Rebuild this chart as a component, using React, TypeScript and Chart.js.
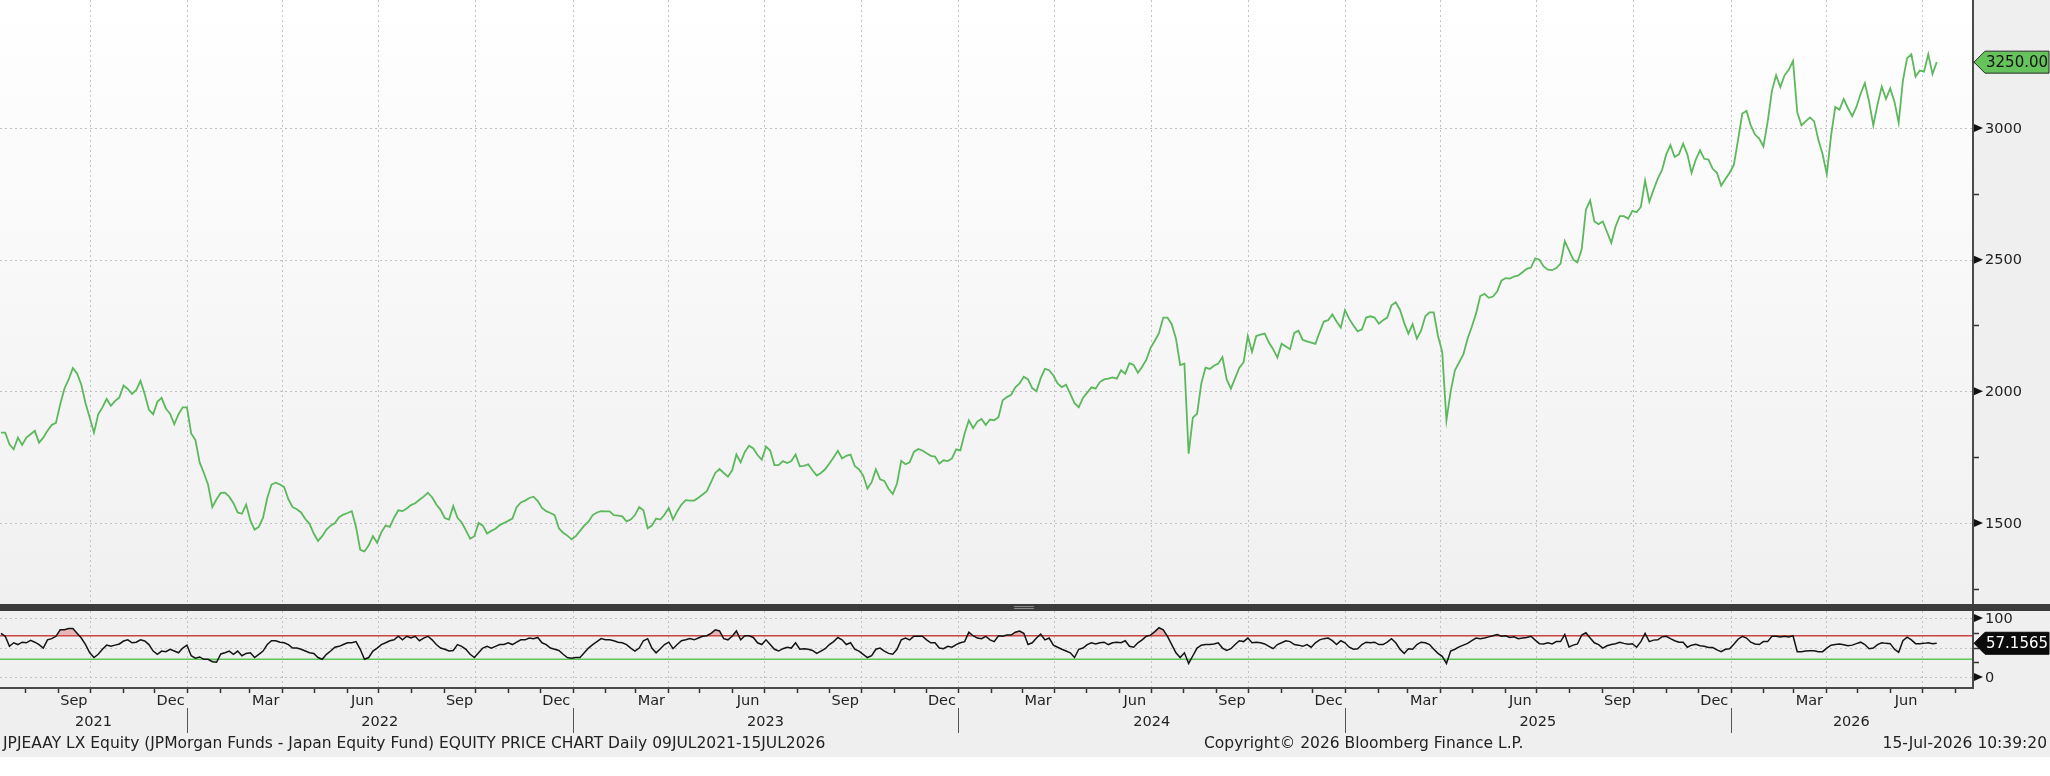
import React, { useEffect, useRef } from 'react';
import { Chart, registerables } from 'chart.js';

Chart.register(...registerables);

// series start 09 Jul 2021, one reading every 4 calendar days
const START = Date.UTC(2021, 6, 9);
const STEP_DAYS = 4;

const price2021 = [
  1843, 1843, 1799, 1780, 1824, 1796, 1824, 1837, 1850, 1805,
  1824, 1850, 1872, 1880, 1950, 2010, 2045, 2088, 2068, 2025,
  1955, 1900, 1843, 1913, 1939, 1971, 1945, 1964, 1977, 2022,
  2009, 1990, 2005, 2040, 1990, 1930, 1913, 1960, 1975, 1935,
  1915, 1875, 1913, 1939,
];
const price2022 = [
  1939, 1840, 1815, 1730, 1690, 1645,
  1560, 1590, 1614, 1615, 1600, 1575, 1540, 1535, 1570, 1510,
  1475, 1485, 1520, 1595, 1646, 1653, 1646, 1636, 1590, 1560,
  1552, 1540, 1515, 1497, 1460, 1432, 1450, 1475, 1490, 1500,
  1522, 1532, 1538, 1545, 1485, 1398, 1392, 1415, 1450, 1425,
  1465, 1490, 1485, 1520, 1548, 1545, 1555, 1568, 1575, 1588,
  1600, 1615, 1598, 1570, 1550, 1519, 1513, 1564, 1520, 1502,
  1472, 1440, 1450, 1500, 1490, 1460, 1470, 1478, 1492, 1500,
  1508, 1517, 1560, 1578, 1585, 1595, 1600, 1583, 1557, 1545,
  1538, 1530, 1480, 1463, 1452, 1438,
];
const price2023 = [
  1450, 1470, 1490, 1505,
  1530, 1540, 1545, 1544, 1544, 1530, 1528, 1525, 1506, 1513,
  1530, 1560, 1548, 1480, 1490, 1517, 1513, 1532, 1557, 1513,
  1545, 1570, 1587, 1585, 1585, 1596, 1608, 1621, 1655, 1690,
  1705, 1690, 1676, 1700, 1760, 1730, 1770, 1793, 1783, 1758,
  1740, 1790, 1775, 1720, 1720, 1735, 1728, 1735, 1760, 1715,
  1717, 1723, 1700, 1680, 1690, 1704, 1726, 1749, 1774, 1745,
  1755, 1760, 1717, 1704, 1680, 1630, 1655, 1704, 1666, 1660,
  1630, 1610, 1650, 1736, 1723, 1730, 1770, 1781, 1775, 1765,
  1755, 1752, 1725, 1738, 1735, 1745, 1780,
];
const price2024 = [
  1776, 1840, 1890,
  1860, 1885, 1895, 1872, 1893, 1890, 1902, 1966, 1978, 1987,
  2015, 2030, 2055, 2045, 2012, 2000, 2050, 2085, 2080, 2060,
  2030, 2016, 2025, 1990, 1955, 1940, 1975, 1995, 2015, 2010,
  2035, 2045, 2048, 2053, 2048, 2080, 2067, 2107, 2100, 2070,
  2093, 2120, 2165, 2192, 2222, 2280, 2280, 2255, 2200, 2100,
  2105, 1763, 1900, 1915, 2030, 2090, 2085, 2097, 2105, 2130,
  2045, 2010, 2050, 2090, 2110, 2210, 2150, 2210, 2215, 2219,
  2185, 2160, 2128, 2181, 2170, 2160, 2222, 2230, 2195, 2190,
  2185, 2180, 2225, 2265, 2270, 2292, 2265, 2242,
];
const price2025 = [
  2308, 2275,
  2250, 2228, 2235, 2280, 2285, 2280, 2257, 2270, 2280, 2327,
  2338, 2310, 2260, 2219, 2255, 2200, 2230, 2285, 2300, 2300,
  2210, 2150, 1890, 2000, 2080, 2110, 2140, 2200, 2245, 2295,
  2362, 2370, 2355, 2360, 2379, 2420, 2430, 2428, 2436, 2440,
  2452, 2465, 2470, 2505, 2500, 2474, 2462, 2460, 2468, 2485,
  2570, 2535, 2500, 2490, 2540, 2690, 2725, 2645, 2635, 2645,
  2605, 2564, 2625, 2665, 2665, 2655, 2685, 2680, 2700, 2800,
  2720, 2765, 2808, 2840, 2900, 2935, 2890, 2900, 2940, 2900,
  2830, 2880, 2915, 2883, 2880, 2845, 2830, 2781, 2806, 2830,
];
const price2026 = [
  2860, 2955, 3055, 3065, 3010, 2975, 2960, 2930, 3023, 3140,
  3200, 3155, 3200, 3221, 3255, 3060, 3010, 3025, 3040, 3025,
  2955, 2900, 2825, 2970, 3080, 3070, 3110, 3075, 3045, 3080,
  3130, 3170, 3100, 3010, 3090, 3157, 3110, 3150, 3100, 3020,
  3180, 3265, 3280, 3195, 3218, 3214, 3280, 3205, 3250,
];

const rsi2021 = [
  74, 69, 52, 58, 55, 59, 58, 62, 59, 55,
  49, 63, 65, 69, 80, 80, 82, 82, 74, 66,
  55, 41, 33, 38.5, 47, 54, 52, 54, 56, 61,
  63, 58, 59, 63, 61, 55, 44, 38.5, 44, 43,
  47, 44, 41, 49,
];
const rsi2022 = [
  54, 36, 32, 34, 30, 30,
  26, 25, 39, 41, 44, 38.5, 44, 36, 40, 41,
  33, 38.5, 44, 55, 61.5, 61.5, 59, 58, 55, 49,
  49, 47, 44, 41, 40, 33, 30, 38.5, 44, 50.5,
  52, 55, 58, 58, 60, 47, 30, 33, 44, 49,
  55, 58, 61.5, 63, 69, 63, 69, 66, 69, 61.5,
  66, 69, 63, 55, 49, 47, 44, 45, 55, 52,
  47, 38.5, 33, 41, 49, 52, 49, 52, 55, 55,
  58, 55, 59, 63, 63, 66, 65, 67, 58, 55,
  49, 47, 45, 38.5, 33, 32,
];
const rsi2023 = [
  33, 33, 41, 49,
  55, 60, 65, 63, 63, 61.5, 59, 58, 55, 49,
  44, 49, 61.5, 65, 49, 41, 48, 55, 59, 48,
  55, 61.5, 63, 65, 63, 66, 69, 70, 74, 80,
  78, 65, 63, 69, 78, 63, 70, 70, 67, 58,
  55, 63, 55, 47, 44, 48, 50.5, 49, 58, 47,
  48, 47, 45, 40, 44, 48, 55, 60, 67, 63,
  55, 58, 47, 44, 38.5, 33, 36, 47, 49, 44,
  40, 38.5, 47, 63, 66, 63, 69, 69, 69, 63,
  58, 58, 49, 48, 52, 50.5, 55,
];
const rsi2024 = [
  58, 60, 76,
  70, 66, 65, 69, 63, 60, 70, 69, 71, 71,
  76, 78, 74, 55, 58, 66, 72.5, 63, 66, 54,
  50.5, 47, 44, 41, 33, 47, 49, 55, 58, 56,
  58, 59, 55, 58, 59, 58, 61.5, 52, 50.5, 58,
  63, 69, 71, 77, 83.5, 80, 69, 55, 41, 33,
  41, 23, 36, 49, 54, 55, 55, 56, 58, 49,
  45, 48, 55, 61.5, 60, 66, 58, 59, 58, 56,
  52, 48, 55, 58, 61.5, 60, 55, 54, 52, 55,
  50.5, 58, 63, 65, 66, 61.5, 55, 61.5,
];
const rsi2025 = [
  58, 50.5,
  47, 48, 55, 59, 58, 59, 55, 55, 59, 65,
  58, 47, 40, 48, 47, 55, 59, 58, 55, 47,
  40, 35, 23, 44, 47, 51, 54, 57, 61.5, 66,
  65, 66, 68, 70, 72, 69, 70, 67, 68, 65,
  66, 67, 69, 62.5, 56.5, 56, 58, 56, 60, 60,
  72, 51, 54, 56, 71, 75, 66, 58, 55, 49,
  53, 55, 56.5, 59, 57, 55.5, 56.5, 50.5, 60, 74,
  60, 62.5, 63, 68, 69, 65, 61.5, 59, 59, 50.5,
  54, 55.5, 53, 52, 50, 50, 46, 43, 47, 48,
];
const rsi2026 = [
  55.5, 64, 69, 66, 59, 56, 55, 60, 60, 69,
  69, 68, 69, 68, 70, 43, 43, 44, 44.5, 44.5,
  43, 43, 49, 54, 55, 56, 54.5, 53, 54, 56.5,
  59, 55, 48, 49, 55, 58, 57, 56.5, 47, 42,
  61.5, 67.5, 63, 56.5, 56.5, 57, 58, 56.5, 57.1565,
];

const monthNames = ['Jan', 'Feb', 'Mar', 'Apr', 'May', 'Jun', 'Jul', 'Aug', 'Sep', 'Oct', 'Nov', 'Dec'];
const labelledMonths = [2, 5, 8, 11];
const gridMonths = [0, 3, 6, 9];
const yearLabels = [2021, 2022, 2023, 2024, 2025, 2026];
const priceTicks = [1500, 2000, 2500, 3000];
const priceMinorTicks = [1250, 1750, 2250, 2750, 3250];
const rsiTicks = [0, 100];
const rsiMinorTicks = [25, 50, 75];
const rsiGrid = [0, 50, 100];
const rsiUpper = 70;
const rsiLower = 30;

const footerLeft = 'JPJEAAY LX Equity (JPMorgan Funds - Japan Equity Fund) EQUITY PRICE CHART Daily 09JUL2021-15JUL2026';
const footerMid = 'Copyright\u00a9 2026 Bloomberg Finance L.P.';
const footerRight = '15-Jul-2026 10:39:20';

const W = 2050;
const H = 776;
const PLOT_RIGHT = 1972;
const PRICE_BOTTOM = 604;
const RSI_TOP = 611;
const RSI_BOTTOM = 687;
const GREY_BOTTOM = 757;
const FONT = '"DejaVu Sans", sans-serif';

const X_MIN = -0.95;
const X_MAX = 1865.4;

const dayOf = (y: number, m: number, d = 1) => Math.round((Date.UTC(y, m, d) - START) / 86400000);

const prices = [...price2021, ...price2022, ...price2023, ...price2024, ...price2025, ...price2026];
const rsi = [...rsi2021, ...rsi2022, ...rsi2023, ...rsi2024, ...rsi2025, ...rsi2026];

const bbgPlugin = {
  id: 'bbgDecor',
  beforeDraw(chart: any) {
    const { ctx } = chart;
    const xs = chart.scales.x;
    const yp = chart.scales.yPrice;
    const yr = chart.scales.yRsi;
    ctx.save();
    ctx.fillStyle = '#efefef';
    ctx.fillRect(0, 0, W, GREY_BOTTOM);
    ctx.fillStyle = '#ffffff';
    ctx.fillRect(0, GREY_BOTTOM, W, H - GREY_BOTTOM);

    const g = ctx.createLinearGradient(0, 0, 0, PRICE_BOTTOM);
    g.addColorStop(0, '#ffffff');
    g.addColorStop(1, '#f0f0f0');
    ctx.fillStyle = g;
    ctx.fillRect(0, 0, PLOT_RIGHT, PRICE_BOTTOM);
    ctx.fillStyle = '#f0f0f0';
    ctx.fillRect(0, RSI_TOP, PLOT_RIGHT, RSI_BOTTOM - RSI_TOP);

    // dotted grid
    ctx.setLineDash([2, 3]);
    ctx.strokeStyle = '#c2c2c2';
    ctx.lineWidth = 1;
    ctx.beginPath();
    for (let y = 2021; y <= 2026; y++) {
      for (const m of gridMonths) {
        const d = dayOf(y, m);
        if (d < X_MIN || d > X_MAX) continue;
        const px = Math.round(xs.getPixelForValue(d)) + 0.5;
        ctx.moveTo(px, 0);
        ctx.lineTo(px, PRICE_BOTTOM);
        ctx.moveTo(px, RSI_TOP);
        ctx.lineTo(px, RSI_BOTTOM);
      }
    }
    for (const v of priceTicks) {
      const py = Math.round(yp.getPixelForValue(v)) + 0.5;
      ctx.moveTo(0, py);
      ctx.lineTo(PLOT_RIGHT, py);
    }
    for (const v of rsiGrid) {
      const py = Math.round(yr.getPixelForValue(v)) + 0.5;
      ctx.moveTo(0, py);
      ctx.lineTo(PLOT_RIGHT, py);
    }
    ctx.stroke();
    ctx.setLineDash([]);

    // RSI bands
    ctx.lineWidth = 1.5;
    ctx.strokeStyle = '#c9423f';
    let py = yr.getPixelForValue(rsiUpper);
    ctx.beginPath();
    ctx.moveTo(0, py);
    ctx.lineTo(PLOT_RIGHT, py);
    ctx.stroke();
    ctx.strokeStyle = '#5cc65a';
    py = yr.getPixelForValue(rsiLower);
    ctx.beginPath();
    ctx.moveTo(0, py);
    ctx.lineTo(PLOT_RIGHT, py);
    ctx.stroke();
    ctx.restore();
  },
  afterDraw(chart: any) {
    const { ctx } = chart;
    const xs = chart.scales.x;
    const yp = chart.scales.yPrice;
    const yr = chart.scales.yRsi;
    ctx.save();

    // panel divider
    ctx.fillStyle = '#3b3b3b';
    ctx.fillRect(0, PRICE_BOTTOM, W, RSI_TOP - PRICE_BOTTOM);
    ctx.fillStyle = '#8a8a8a';
    ctx.fillRect(1014, PRICE_BOTTOM + 2, 20, 1);
    ctx.fillRect(1014, PRICE_BOTTOM + 4, 20, 1);

    // axis lines
    ctx.strokeStyle = '#4a4a4a';
    ctx.lineWidth = 2;
    ctx.beginPath();
    ctx.moveTo(PLOT_RIGHT + 1, 0);
    ctx.lineTo(PLOT_RIGHT + 1, PRICE_BOTTOM);
    ctx.moveTo(PLOT_RIGHT + 1, RSI_TOP);
    ctx.lineTo(PLOT_RIGHT + 1, RSI_BOTTOM + 1);
    ctx.moveTo(0, RSI_BOTTOM + 1);
    ctx.lineTo(PLOT_RIGHT + 2, RSI_BOTTOM + 1);
    ctx.stroke();

    const arrow = (y: number) => {
      ctx.fillStyle = '#111';
      ctx.beginPath();
      ctx.moveTo(PLOT_RIGHT + 2, y - 4);
      ctx.lineTo(PLOT_RIGHT + 11, y);
      ctx.lineTo(PLOT_RIGHT + 2, y + 4);
      ctx.closePath();
      ctx.fill();
    };
    const minor = (y: number) => {
      ctx.strokeStyle = '#333';
      ctx.lineWidth = 1.5;
      ctx.beginPath();
      ctx.moveTo(PLOT_RIGHT + 2, y);
      ctx.lineTo(PLOT_RIGHT + 7, y);
      ctx.stroke();
    };

    ctx.font = `14.5px ${FONT}`;
    ctx.textBaseline = 'middle';
    ctx.textAlign = 'left';
    for (const v of priceMinorTicks) minor(Math.round(yp.getPixelForValue(v)) + 0.5);
    for (const v of priceTicks) {
      const y = yp.getPixelForValue(v);
      arrow(y);
      ctx.fillStyle = '#222';
      ctx.fillText(String(v), PLOT_RIGHT + 13, y + 1);
    }
    for (const v of rsiMinorTicks) minor(Math.round(yr.getPixelForValue(v)) + 0.5);
    for (const v of rsiTicks) {
      const y = yr.getPixelForValue(v);
      arrow(y);
      ctx.fillStyle = '#222';
      ctx.fillText(String(v), PLOT_RIGHT + 13, y + 1);
    }

    // last value tags
    const tag = (y: number, fill: string, stroke: string, color: string, text: string) => {
      ctx.beginPath();
      ctx.moveTo(PLOT_RIGHT + 2, y);
      ctx.lineTo(PLOT_RIGHT + 13, y - 11);
      ctx.lineTo(W - 1, y - 11);
      ctx.lineTo(W - 1, y + 11);
      ctx.lineTo(PLOT_RIGHT + 13, y + 11);
      ctx.closePath();
      ctx.fillStyle = fill;
      ctx.fill();
      ctx.strokeStyle = stroke;
      ctx.lineWidth = 1;
      ctx.stroke();
      ctx.fillStyle = color;
      ctx.font = `15px ${FONT}`;
      ctx.fillText(text, PLOT_RIGHT + 14, y + 1);
    };
    const lastPrice = prices[prices.length - 1];
    const lastRsi = rsi[rsi.length - 1];
    tag(yp.getPixelForValue(lastPrice), '#66c25a', '#2a2a2a', '#111', lastPrice.toFixed(2));
    tag(yr.getPixelForValue(lastRsi), '#0b0b0b', '#0b0b0b', '#ffffff', String(lastRsi));

    // time axis
    ctx.font = `14.5px ${FONT}`;
    ctx.textAlign = 'center';
    ctx.strokeStyle = '#333';
    ctx.lineWidth = 1.5;
    for (let y = 2021; y <= 2026; y++) {
      for (let m = 0; m < 12; m++) {
        const d = dayOf(y, m);
        if (d > X_MIN && d < X_MAX) {
          const px = Math.round(xs.getPixelForValue(d)) + 0.5;
          ctx.beginPath();
          ctx.moveTo(px, RSI_BOTTOM + 2);
          ctx.lineTo(px, RSI_BOTTOM + 6);
          ctx.stroke();
        }
        if (labelledMonths.includes(m) && d > X_MIN) {
          const mid = (d + dayOf(y, m + 1)) / 2;
          if (mid < X_MAX) {
            ctx.fillStyle = '#222';
            ctx.fillText(monthNames[m], xs.getPixelForValue(mid), 701);
          }
        }
      }
    }
    ctx.strokeStyle = '#555';
    ctx.lineWidth = 1;
    for (const yl of yearLabels) {
      const a = Math.max(dayOf(yl, 0), X_MIN);
      const b = Math.min(dayOf(yl + 1, 0), X_MAX);
      const cx = (xs.getPixelForValue(a) + xs.getPixelForValue(b)) / 2;
      ctx.fillStyle = '#222';
      ctx.fillText(String(yl), cx, 722);
      const jan = dayOf(yl, 0);
      if (jan > X_MIN) {
        const px = Math.round(xs.getPixelForValue(jan)) + 0.5;
        ctx.beginPath();
        ctx.moveTo(px, 708);
        ctx.lineTo(px, 733);
        ctx.stroke();
      }
    }

    // footer
    ctx.font = `15.5px ${FONT}`;
    ctx.fillStyle = '#222';
    ctx.textAlign = 'left';
    ctx.fillText(footerLeft, 3, 744);
    ctx.fillText(footerMid, 1204, 744);
    ctx.textAlign = 'right';
    ctx.fillText(footerRight, W - 3, 744);
    ctx.restore();
  },
};

export default function App() {
  const canvasRef = useRef<HTMLCanvasElement | null>(null);

  useEffect(() => {
    if (!canvasRef.current) return;
    const chart = new Chart(canvasRef.current, {
      type: 'line',
      data: {
        datasets: [
          {
            label: 'Price',
            data: prices.map((v, i) => ({ x: i * STEP_DAYS, y: v })),
            yAxisID: 'yPrice',
            borderColor: '#5cb85c',
            borderWidth: 1.8,
            pointRadius: 0,
            tension: 0,
            fill: false,
          },
          {
            label: 'RSI',
            data: rsi.map((v, i) => ({ x: i * STEP_DAYS, y: v })),
            yAxisID: 'yRsi',
            borderColor: '#141414',
            borderWidth: 1.5,
            pointRadius: 0,
            tension: 0,
            fill: { target: { value: rsiUpper }, above: 'rgba(222,110,110,0.45)', below: 'rgba(0,0,0,0)' },
          },
          {
            label: 'RSI oversold',
            data: rsi.map((v, i) => ({ x: i * STEP_DAYS, y: v })),
            yAxisID: 'yRsi',
            borderColor: 'rgba(0,0,0,0)',
            borderWidth: 0,
            pointRadius: 0,
            tension: 0,
            fill: { target: { value: rsiLower }, above: 'rgba(0,0,0,0)', below: 'rgba(110,200,110,0.45)' },
          },
        ],
      },
      options: {
        animation: false,
        responsive: false,
        layout: { padding: { left: 0, top: 0, right: W - PLOT_RIGHT, bottom: H - RSI_BOTTOM } },
        plugins: { legend: { display: false }, tooltip: { enabled: false } },
        scales: {
          x: { type: 'linear', display: false, min: X_MIN, max: X_MAX },
          yPrice: { type: 'linear', display: false, min: 877.2, max: 3486 },
          yRsi: { type: 'linear', display: false, min: -16.95, max: 1147.5 },
        },
      },
      plugins: [bbgPlugin],
    });
    return () => chart.destroy();
  }, []);

  return (
    <div style={{ position: 'absolute', left: 0, top: 0, width: W, height: H, background: '#fff' }}>
      <canvas ref={canvasRef} width={W} height={H} style={{ display: 'block' }} />
    </div>
  );
}
